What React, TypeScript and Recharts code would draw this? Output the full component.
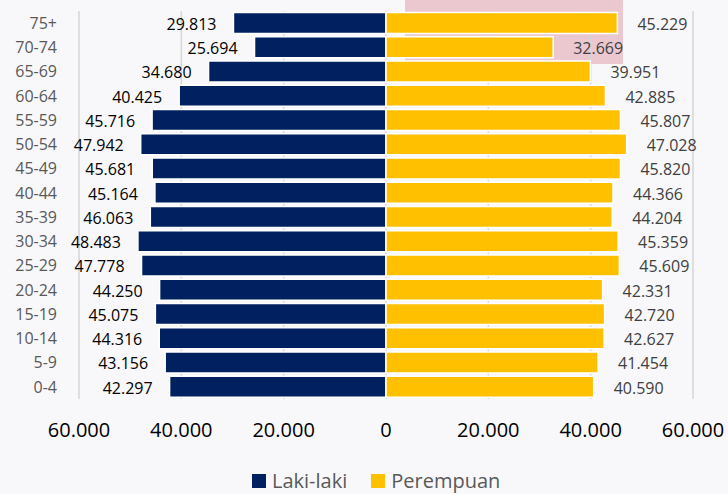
import React from 'react';
import { BarChart, Bar, XAxis, YAxis, CartesianGrid, Legend, LabelList } from 'recharts';

const categories = ['75+', '70-74', '65-69', '60-64', '55-59', '50-54', '45-49', '40-44', '35-39', '30-34', '25-29', '20-24', '15-19', '10-14', '5-9', '0-4'];
const maleValues = [29813, 25694, 34680, 40425, 45716, 47942, 45681, 45164, 46063, 48483, 47778, 44250, 45075, 44316, 43156, 42297];
const femaleValues = [45229, 32669, 39951, 42885, 45807, 47028, 45820, 44366, 44204, 45359, 45609, 42331, 42720, 42627, 41454, 40590];
const xTicks = [-60000, -40000, -20000, 0, 20000, 40000, 60000];
const seriesNames = ['Laki-laki', 'Perempuan'];

const NAVY = '#002060';
const GOLD = '#FFC000';
const FONT = '"Open Sans", sans-serif';

const data = categories.map((age, i) => ({ age, male: -maleValues[i], female: femaleValues[i] }));

const fmt = (v: number) => String(Math.abs(Math.round(Number(v)))).replace(/\B(?=(\d{3})+(?!\d))/g, '.');

const MaleLabel = (props: any) => {
  const { x, y, width, height, value } = props;
  const left = Math.min(Number(x), Number(x) + Number(width));
  return (
    <text x={left - 17} y={Number(y) + Number(height) / 2 + 1} textAnchor="end" dominantBaseline="central" fontSize={16} fill="#000000" fontFamily={FONT}>
      {fmt(value)}
    </text>
  );
};

const FemaleLabel = (props: any) => {
  const { x, y, width, height, value } = props;
  const right = Math.max(Number(x), Number(x) + Number(width));
  return (
    <text x={right + 20} y={Number(y) + Number(height) / 2 + 1} textAnchor="start" dominantBaseline="central" fontSize={16} fill="#404040" fontFamily={FONT}>
      {fmt(value)}
    </text>
  );
};

const LegendContent = () => (
  <div style={{ height: 30, boxSizing: 'border-box', paddingTop: 4, paddingLeft: 252, display: 'flex', alignItems: 'center', fontFamily: FONT, fontSize: 20, color: '#595959', lineHeight: '26px' }}>
    <span style={{ display: 'flex', alignItems: 'center' }}>
      <span style={{ width: 14, height: 14, background: NAVY, marginRight: 6, display: 'inline-block' }} />
      {seriesNames[0]}
    </span>
    <span style={{ display: 'flex', alignItems: 'center', marginLeft: 24 }}>
      <span style={{ width: 14, height: 14, background: GOLD, marginRight: 6, display: 'inline-block' }} />
      {seriesNames[1]}
    </span>
  </div>
);

export default function App() {
  return (
    <div style={{ position: 'absolute', left: 0, top: 0, width: 728, height: 494, background: '#F8F8FA', overflow: 'hidden' }}>
      <div style={{ position: 'absolute', left: 405, top: 0, width: 218, height: 64, background: '#EBC8D0' }} />
      <div style={{ position: 'absolute', left: 0, top: 0 }}>
        <BarChart
          width={728}
          height={494}
          data={data}
          layout="vertical"
          stackOffset="sign"
          barCategoryGap="6%"
          margin={{ top: 11, right: 35, left: 0, bottom: 0 }}
        >
          <CartesianGrid horizontal={false} stroke="#D6D6D6" strokeWidth={1.5} />
          <XAxis
            type="number"
            domain={[-60000, 60000]}
            ticks={xTicks}
            interval={0}
            tickFormatter={fmt}
            axisLine={false}
            tickLine={false}
            tickSize={0}
            tickMargin={24}
            height={65}
            tick={{ fontSize: 20, fill: '#000000', fontFamily: FONT }}
          />
          <YAxis
            type="category"
            dataKey="age"
            width={79}
            interval={0}
            axisLine={false}
            tickLine={false}
            tickSize={0}
            tickMargin={22}
            tick={{ fontSize: 16, fill: '#595959', fontFamily: FONT }}
          />
          <Legend verticalAlign="bottom" align="left" width={728} wrapperStyle={{ left: 0 }} content={<LegendContent />} />
          <Bar dataKey="male" name={seriesNames[0]} stackId="a" fill={NAVY} stroke="#FFFFFF" strokeWidth={1.5} isAnimationActive={false}>
            <LabelList dataKey="male" content={<MaleLabel />} />
          </Bar>
          <Bar dataKey="female" name={seriesNames[1]} stackId="a" fill={GOLD} stroke="#FFFFFF" strokeWidth={1.5} isAnimationActive={false}>
            <LabelList dataKey="female" content={<FemaleLabel />} />
          </Bar>
        </BarChart>
      </div>
    </div>
  );
}
